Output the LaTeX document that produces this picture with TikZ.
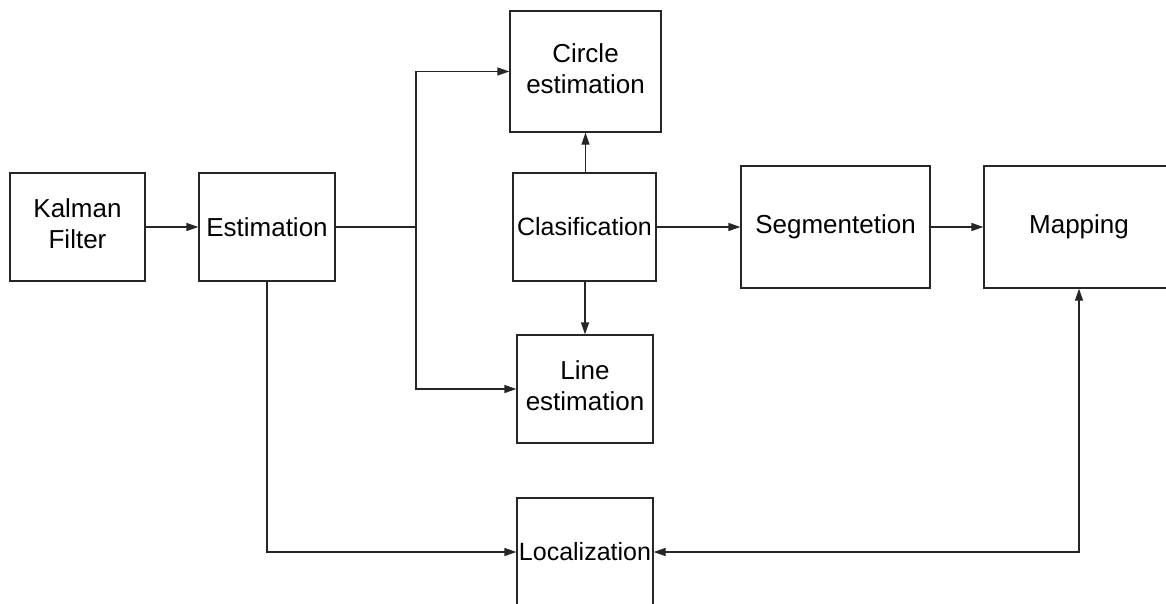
\documentclass[tikz,border=0pt]{standalone}
\usepackage{fontspec}
\setmainfont{Liberation Sans}
\usetikzlibrary{arrows.meta}
% two centred lines, raised slightly inside their box
\newcommand\twolines[2]{\raisebox{3.5pt}{\begin{tabular}{@{}c@{}}#1\\#2\end{tabular}}}
\begin{document}
\begin{tikzpicture}[x=1pt,y=-1pt,
  blk/.style={draw=black!85, line width=1.3pt, fill=white, inner sep=0pt,
    align=center, font=\fontsize{26}{31}\selectfont},
  conn/.style={draw=black!85, line width=1.3pt, -{Triangle[length=12pt,width=8pt]}},
  wire/.style={draw=black!85, line width=1.3pt}]
  \clip (0,0) rectangle (1166,603);
  \fill[white] (0,0) rectangle (1166,603);

  % processing blocks
  \node[blk, minimum width=135pt, minimum height=108pt] (kf)   at (77.5,227)  {\twolines{Kalman}{Filter}};
  \node[blk, minimum width=136pt, minimum height=108pt] (est)  at (267,227)   {Estimation};
  \node[blk, minimum width=151pt, minimum height=121pt] (circ) at (585.5,71.5) {\twolines{Circle}{estimation}};
  \node[blk, minimum width=143pt, minimum height=108pt, font=\fontsize{25}{30}\selectfont] (cls) at (584.5,227) {Clasification};
  \node[blk, minimum width=189pt, minimum height=122pt] (seg)  at (835.5,227) {Segmentetion};
  \node[blk, minimum width=190pt, minimum height=122pt] (map)  at (1079,227)  {Mapping};
  \node[blk, minimum width=136pt, minimum height=108pt] (line) at (585,389)   {\twolines{Line}{estimation}};
  \node[blk, minimum width=136pt, minimum height=108pt, font=\fontsize{25}{30}\selectfont] (loc) at (585,552) {Localization};

  % branching point after the estimator
  \coordinate (j) at (416,227);

  % connections
  \draw[conn] (kf.east) -- (est.west);
  \draw[wire] (est.east) -- (j);
  \draw[conn] (j) |- (circ.west);
  \draw[conn] (j) |- (line.west);
  \draw[conn] (cls.north -| circ.south) -- (circ.south);
  \draw[conn] (cls.south -| line.north) -- (line.north);
  \draw[conn] (cls.east) -- (seg.west);
  \draw[conn] (seg.east) -- (map.west);
  \draw[conn] (est.south) |- (loc.west);
  \draw[conn, {Triangle[length=12pt,width=8pt]}-{Triangle[length=12pt,width=8pt]}] (loc.east) -| (map.south);
\end{tikzpicture}
\end{document}
